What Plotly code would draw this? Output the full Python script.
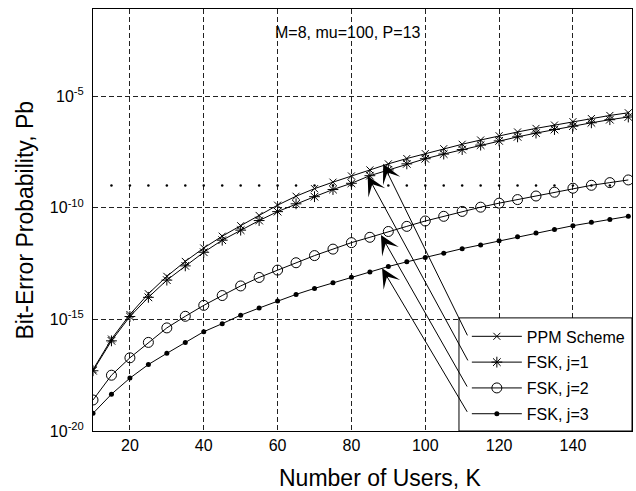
import plotly.graph_objects as go
import numpy as np

# Number of users
K = [10, 15, 20, 25, 30, 35, 40, 45, 50, 55, 60, 65, 70, 75, 80,
     85, 90, 95, 100, 105, 110, 115, 120, 125, 130, 135, 140, 145, 150, 155]

# log10 of bit-error probability
ppm_log = [-17.25, -15.88, -14.78, -13.85, -13.07, -12.40, -11.80, -11.27, -10.80, -10.34,
           -9.88, -9.48, -9.14, -8.85, -8.57, -8.30, -8.03, -7.79, -7.57, -7.35,
           -7.15, -6.96, -6.77, -6.60, -6.44, -6.29, -6.14, -6.00, -5.86, -5.74]
fsk1_log = [-17.30, -15.96, -14.87, -14.01, -13.24, -12.60, -11.99, -11.45, -11.00, -10.57,
            -10.17, -9.82, -9.50, -9.18, -8.90, -8.56, -8.30, -8.03, -7.80, -7.59,
            -7.39, -7.19, -7.00, -6.82, -6.65, -6.49, -6.34, -6.19, -6.05, -5.93]
fsk2_log = [-18.61, -17.50, -16.72, -16.03, -15.38, -14.86, -14.37, -13.93, -13.50, -13.12,
            -12.79, -12.46, -12.14, -11.85, -11.56, -11.32, -11.06, -10.83, -10.59, -10.38,
            -10.16, -9.97, -9.79, -9.63, -9.47, -9.30, -9.12, -8.99, -8.87, -8.75]
fsk3_log = [-19.21, -18.35, -17.63, -17.02, -16.52, -16.03, -15.55, -15.19, -14.81, -14.49,
            -14.18, -13.88, -13.61, -13.36, -13.11, -12.87, -12.63, -12.42, -12.22, -12.03,
            -11.83, -11.66, -11.48, -11.30, -11.13, -10.97, -10.80, -10.65, -10.52, -10.38]

# dotted reference level
ref_K = [15, 20, 25, 30, 35, 40, 45, 50, 55, 60, 65, 70, 75, 80, 85, 90, 95, 100,
         105, 110, 115, 120, 125, 130, 135, 140, 145, 150]
ref_level = 1e-9

series_names = ["PPM Scheme", "FSK, j=1", "FSK, j=2", "FSK, j=3"]

x_ticks = [20, 40, 60, 80, 100, 120, 140]
y_ticks = [1e-20, 1e-15, 1e-10, 1e-5]
y_ticktext = ["10<sup>-20</sup>", "10<sup>-15</sup>", "10<sup>-10</sup>", "10<sup>-5</sup>"]

# arrow tips (K, log10 Pb) and their tails as pixel offsets
arrow_tip_K = [88.6, 84.4, 88.0, 88.3]
arrow_tip_log = [-8.03, -8.57, -11.22, -12.71]
arrow_dx = [85, 101, 87, 86]
arrow_dy = [173, 186, 153, 145]

FONT = "Liberation Sans, Arial, Helvetica, sans-serif"

fig = go.Figure()

fig.add_trace(go.Scatter(
    x=ref_K, y=[ref_level] * len(ref_K), mode="markers",
    marker=dict(symbol="circle", size=2.5, color="black"),
    showlegend=False, hoverinfo="skip"))

styles = [
    dict(symbol="x-thin-open", size=7, line=dict(width=1, color="black"), color="black"),
    dict(symbol="asterisk-open", size=9, line=dict(width=1, color="black"), color="black"),
    dict(symbol="circle-open", size=10, line=dict(width=1, color="black"), color="black"),
    dict(symbol="circle", size=5, color="black", line=dict(width=0)),
]
for name, vals, st in zip(series_names, [ppm_log, fsk1_log, fsk2_log, fsk3_log], styles):
    fig.add_trace(go.Scatter(
        x=K, y=np.power(10.0, vals), mode="lines+markers", name=name,
        legendgroup=name,
        line=dict(color="black", width=1), marker=st))

# legend frame (white box with border), drawn above the plot traces
fig.add_shape(type="rect", xref="paper", yref="paper",
              x0=0.679, x1=1.0, y0=0.0, y1=0.268, layer="above",
              fillcolor="white", line=dict(color="black", width=1))

for tx, ty, dx, dy in zip(arrow_tip_K, arrow_tip_log, arrow_dx, arrow_dy):
    fig.add_annotation(x=tx, y=ty, xref="x", yref="y", text="", showarrow=True,
                       ax=dx, ay=dy, arrowhead=3, arrowsize=3.2, arrowwidth=1,
                       arrowcolor="black", standoff=0)

fig.add_annotation(x=0.473, y=0.970, xref="paper", yref="paper",
                   text="M=8, mu=100, P=13", showarrow=False,
                   font=dict(size=16, color="black", family=FONT))
fig.add_annotation(x=0.5325, y=-0.111, xref="paper", yref="paper",
                   text="Number of Users, K", showarrow=False,
                   xanchor="center", yanchor="middle",
                   font=dict(size=23, color="black", family=FONT))
fig.add_annotation(x=-0.127, y=0.5, xref="paper", yref="paper",
                   text="Bit-Error Probability, Pb", showarrow=False, textangle=-90,
                   xanchor="center", yanchor="middle",
                   font=dict(size=23, color="black", family=FONT))

grid_style = dict(showgrid=True, gridcolor="#222222", gridwidth=1, griddash="5px,3px")

fig.update_layout(
    width=636, height=491,
    margin=dict(l=93, r=4, t=9, b=60),
    paper_bgcolor="white", plot_bgcolor="white",
    font=dict(family=FONT, size=16, color="black"),
    showlegend=True,
    legend=dict(x=0.996, y=-0.001, xanchor="right", yanchor="bottom",
                bgcolor="rgba(0,0,0,0)", borderwidth=0,
                font=dict(size=16, family=FONT, color="black"),
                itemwidth=50, tracegroupgap=2, traceorder="grouped"),
    xaxis=dict(range=[10, 156], tickvals=x_ticks, ticks="", showline=True,
               linecolor="black", linewidth=1, mirror=True, zeroline=False,
               tickfont=dict(size=16), **grid_style),
    yaxis=dict(type="log", range=[-20, -1.09], tickvals=y_ticks, ticktext=y_ticktext,
               ticks="", showline=True, linecolor="black", linewidth=1, mirror=True,
               zeroline=False, tickfont=dict(size=16), ticklabelstandoff=5, **grid_style),
)

fig.write_html("out.html")
